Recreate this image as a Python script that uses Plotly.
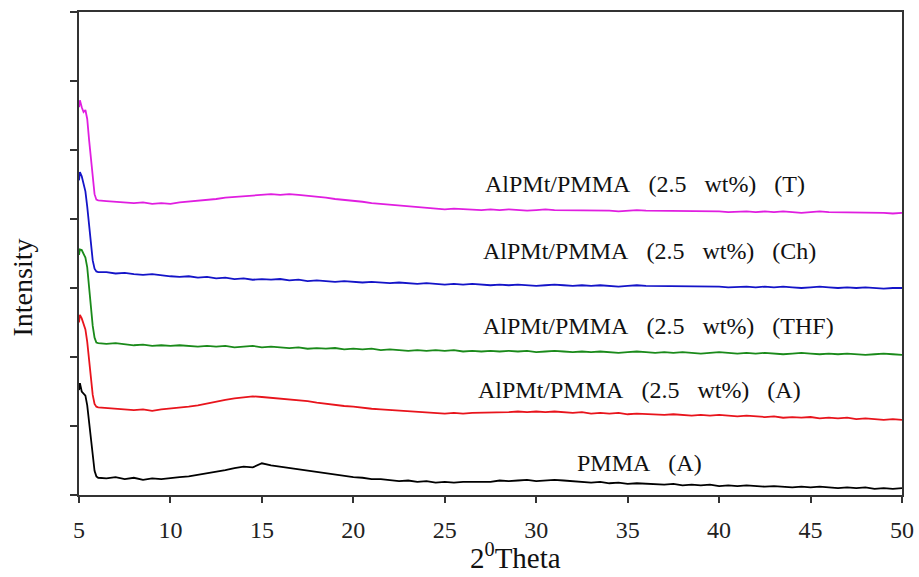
import plotly.graph_objects as go

# 2-theta sampling: dense near the low-angle edge, 0.5 deg steps afterwards
head_theta = [5.0, 5.05, 5.15, 5.25, 5.35, 5.45, 5.55, 5.65, 5.75, 5.85, 5.95, 6.05]
tail_theta = [6.5, 7.0, 7.5, 8.0, 8.5, 9.0, 9.5, 10.0, 10.5, 11.0,
              11.5, 12.0, 12.5, 13.0, 13.5, 14.0, 14.5, 15.0, 15.5, 16.0,
              16.5, 17.0, 17.5, 18.0, 18.5, 19.0, 19.5, 20.0, 20.5, 21.0,
              21.5, 22.0, 22.5, 23.0, 23.5, 24.0, 24.5, 25.0, 25.5, 26.0,
              26.5, 27.0, 27.5, 28.0, 28.5, 29.0, 29.5, 30.0, 30.5, 31.0,
              31.5, 32.0, 32.5, 33.0, 33.5, 34.0, 34.5, 35.0, 35.5, 36.0,
              36.5, 37.0, 37.5, 38.0, 38.5, 39.0, 39.5, 40.0, 40.5, 41.0,
              41.5, 42.0, 42.5, 43.0, 43.5, 44.0, 44.5, 45.0, 45.5, 46.0,
              46.5, 47.0, 47.5, 48.0, 48.5, 49.0, 49.5, 50.0]
two_theta = head_theta + tail_theta

# stacked (offset) intensities, arbitrary units
pmma_a = [1.52, 1.62, 1.50, 1.47, 1.44, 1.30, 1.05, 0.78, 0.52, 0.35, 0.27, 0.25,
          0.24, 0.26, 0.23, 0.25, 0.22, 0.24, 0.23, 0.25, 0.26, 0.27,
          0.29, 0.31, 0.34, 0.36, 0.39, 0.41, 0.40, 0.46, 0.43, 0.41,
          0.40, 0.37, 0.35, 0.33, 0.31, 0.29, 0.27, 0.26, 0.25, 0.23,
          0.23, 0.22, 0.20, 0.21, 0.19, 0.20, 0.18, 0.19, 0.18, 0.19,
          0.19, 0.20, 0.19, 0.21, 0.20, 0.21, 0.22, 0.20, 0.21, 0.22,
          0.21, 0.20, 0.19, 0.18, 0.19, 0.17, 0.18, 0.16, 0.17, 0.16,
          0.16, 0.15, 0.16, 0.14, 0.15, 0.14, 0.15, 0.13, 0.14, 0.13,
          0.14, 0.13, 0.12, 0.13, 0.12, 0.11, 0.12, 0.11, 0.12, 0.11,
          0.10, 0.11, 0.10, 0.11, 0.09, 0.10, 0.09, 0.10]

alpmt_a = [2.50, 2.61, 2.56, 2.48, 2.40, 2.22, 1.95, 1.68, 1.45, 1.32, 1.28, 1.27,
           1.26, 1.25, 1.24, 1.23, 1.24, 1.22, 1.24, 1.25, 1.26, 1.28,
           1.30, 1.33, 1.35, 1.38, 1.40, 1.41, 1.43, 1.42, 1.41, 1.40,
           1.39, 1.37, 1.36, 1.34, 1.32, 1.31, 1.29, 1.28, 1.26, 1.25,
           1.24, 1.23, 1.22, 1.21, 1.20, 1.19, 1.19, 1.18, 1.19, 1.18,
           1.19, 1.19, 1.20, 1.19, 1.20, 1.21, 1.20, 1.21, 1.20, 1.21,
           1.20, 1.19, 1.20, 1.18, 1.19, 1.18, 1.19, 1.17, 1.18, 1.17,
           1.17, 1.16, 1.17, 1.16, 1.15, 1.16, 1.15, 1.16, 1.15, 1.14,
           1.15, 1.14, 1.13, 1.14, 1.12, 1.13, 1.12, 1.13, 1.11, 1.12,
           1.11, 1.12, 1.10, 1.11, 1.10, 1.09, 1.10, 1.09]

alpmt_thf = [3.48, 3.56, 3.55, 3.48, 3.44, 3.30, 3.02, 2.72, 2.45, 2.28, 2.21, 2.20,
             2.19, 2.20, 2.18, 2.17, 2.18, 2.16, 2.17, 2.16, 2.17, 2.16,
             2.15, 2.16, 2.15, 2.16, 2.14, 2.15, 2.16, 2.14, 2.15, 2.14,
             2.13, 2.14, 2.12, 2.13, 2.12, 2.13, 2.11, 2.12, 2.11, 2.12,
             2.10, 2.11, 2.10, 2.09, 2.10, 2.09, 2.10, 2.09, 2.10, 2.08,
             2.09, 2.08, 2.09, 2.08, 2.09, 2.08, 2.09, 2.07, 2.08, 2.09,
             2.08, 2.07, 2.08, 2.07, 2.08, 2.07, 2.06, 2.07, 2.08, 2.07,
             2.06, 2.07, 2.06, 2.07, 2.06, 2.05, 2.06, 2.07, 2.06, 2.05,
             2.06, 2.05, 2.06, 2.05, 2.04, 2.05, 2.06, 2.05, 2.04, 2.05,
             2.04, 2.05, 2.04, 2.03, 2.04, 2.05, 2.04, 2.03]

alpmt_ch = [4.56, 4.68, 4.62, 4.52, 4.40, 4.18, 3.90, 3.62, 3.40, 3.28, 3.24, 3.23,
            3.23, 3.21, 3.22, 3.20, 3.19, 3.20, 3.18, 3.17, 3.16, 3.17,
            3.15, 3.16, 3.14, 3.15, 3.13, 3.14, 3.12, 3.13, 3.12, 3.13,
            3.11, 3.12, 3.10, 3.11, 3.10, 3.09, 3.10, 3.09, 3.08, 3.09,
            3.08, 3.07, 3.08, 3.07, 3.06, 3.07, 3.06, 3.05, 3.06, 3.05,
            3.06, 3.05, 3.04, 3.05, 3.04, 3.05, 3.04, 3.03, 3.04, 3.05,
            3.04, 3.03, 3.04, 3.03, 3.04, 3.03, 3.02, 3.03, 3.04, 3.03,
            3.03, 3.02, 3.03, 3.02, 3.03, 3.02, 3.03, 3.02, 3.01, 3.02,
            3.02, 3.01, 3.02, 3.01, 3.02, 3.01, 3.00, 3.01, 3.02, 3.01,
            3.00, 3.01, 3.00, 3.01, 3.00, 2.99, 3.00, 3.00]

alpmt_t = [5.62, 5.72, 5.62, 5.55, 5.58, 5.45, 5.15, 4.85, 4.55, 4.36, 4.28, 4.27,
           4.26, 4.25, 4.24, 4.23, 4.24, 4.22, 4.23, 4.22, 4.24, 4.25,
           4.26, 4.28, 4.29, 4.31, 4.32, 4.33, 4.34, 4.35, 4.36, 4.35,
           4.36, 4.35, 4.34, 4.32, 4.31, 4.29, 4.28, 4.26, 4.25, 4.23,
           4.22, 4.21, 4.19, 4.18, 4.17, 4.16, 4.15, 4.14, 4.15, 4.14,
           4.14, 4.13, 4.14, 4.13, 4.14, 4.13, 4.12, 4.13, 4.14, 4.13,
           4.13, 4.12, 4.13, 4.12, 4.13, 4.12, 4.11, 4.12, 4.13, 4.12,
           4.12, 4.11, 4.12, 4.11, 4.12, 4.11, 4.12, 4.11, 4.10, 4.11,
           4.11, 4.10, 4.11, 4.10, 4.11, 4.10, 4.09, 4.10, 4.11, 4.10,
           4.10, 4.09, 4.10, 4.09, 4.10, 4.09, 4.08, 4.09]

series_values = [pmma_a, alpmt_a, alpmt_thf, alpmt_ch, alpmt_t]
series_names = ["PMMA (A)",
                "AlPMt/PMMA (2.5 wt%) (A)",
                "AlPMt/PMMA (2.5 wt%) (THF)",
                "AlPMt/PMMA (2.5 wt%) (Ch)",
                "AlPMt/PMMA (2.5 wt%) (T)"]
series_colors = ["#000000", "#e8141c", "#1a8a1a", "#1414c8", "#e01ee0"]

# label anchor positions (2-theta, offset intensity)
label_x = [35.62, 35.67, 36.71, 36.22, 35.95]
label_y = [0.46, 1.52, 2.45, 3.54, 4.51]

x_ticks = [5, 10, 15, 20, 25, 30, 35, 40, 45, 50]

SERIF = "Liberation Serif, Times New Roman, serif"
GAP = "\u00a0\u00a0\u00a0"   # wide word spacing of the curve labels

fig = go.Figure()
for vals, name, col in zip(series_values, series_names, series_colors):
    fig.add_trace(go.Scatter(x=two_theta, y=vals, mode="lines", name=name,
                             line=dict(color=col, width=1.8), showlegend=False))

for name, lx, ly in zip(series_names, label_x, label_y):
    fig.add_annotation(x=lx, y=ly, text=name.replace(" ", GAP), showarrow=False,
                       font=dict(family=SERIF, size=24, color="#111111"))

# axis titles
fig.add_annotation(xref="paper", yref="paper", x=0.53, y=-0.127, yanchor="middle",
                   text="2<sup>0</sup>Theta", showarrow=False,
                   font=dict(family=SERIF, size=29, color="#111111"))
fig.add_annotation(xref="paper", yref="paper", x=-0.069, y=0.43, xanchor="center",
                   textangle=-90, showarrow=False, text="Intensity",
                   font=dict(family=SERIF, size=28, color="#111111"))

fig.update_layout(
    width=919, height=577,
    margin=dict(l=79, r=17, t=12, b=82, autoexpand=False),
    paper_bgcolor="white", plot_bgcolor="white",
    font=dict(family=SERIF, color="#222222"),
)
fig.update_xaxes(
    range=[5, 50], tickvals=x_ticks, ticks="outside", ticklen=6, tickwidth=1.5,
    tickcolor="#333333", showline=True, linecolor="#333333", linewidth=2,
    mirror=True, showgrid=False, zeroline=False, automargin=False,
    tickfont=dict(family=SERIF, size=24, color="#222222"),
    ticklabelstandoff=6,
)
fig.update_yaxes(
    range=[0, 7], dtick=1, ticks="outside", ticklen=7, tickwidth=1.5,
    tickcolor="#333333", showline=True, linecolor="#333333", linewidth=2,
    mirror=True, showgrid=False, zeroline=False, showticklabels=False,
    automargin=False,
)

fig.write_html("out.html")
